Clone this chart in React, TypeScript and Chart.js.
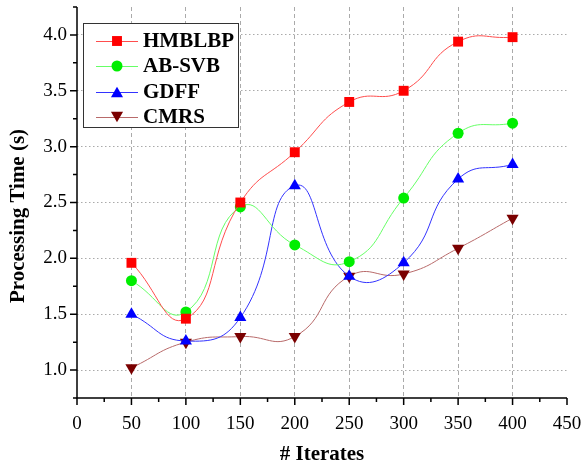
import React, { useEffect, useRef } from 'react';
import { Chart, registerables } from 'chart.js';

Chart.register(...registerables);

const iterates = [50, 100, 150, 200, 250, 300, 350, 400];
const hmblbp = [1.96, 1.46, 2.5, 2.95, 3.4, 3.5, 3.94, 3.98];
const abSvb = [1.8, 1.52, 2.46, 2.12, 1.97, 2.54, 3.12, 3.21];
const gdff = [1.5, 1.26, 1.47, 2.65, 1.84, 1.96, 2.71, 2.84];
const cmrs = [1.02, 1.25, 1.3, 1.3, 1.84, 1.86, 2.09, 2.36];
const seriesNames = ['HMBLBP', 'AB-SVB', 'GDFF', 'CMRS'];
const xTickValues = [0, 50, 100, 150, 200, 250, 300, 350, 400, 450];
const yTickValues = [1.0, 1.5, 2.0, 2.5, 3.0, 3.5, 4.0];
const xMinorTicks = [25, 75, 125, 175, 225, 275, 325, 375, 425];
const yMinorTicks = [0.75, 1.25, 1.75, 2.25, 2.75, 3.25, 3.75, 4.25];
const xTitle = '# Iterates';
const yTitle = 'Processing Time (s)';

const lineColors = ['#ff4d4d', '#66ff66', '#3333ff', '#b86a6a'];
const markerColors = ['#ff0000', '#00ee00', '#0000ff', '#7a0000'];
const markerStyles = ['rect', 'circle', 'triangle', 'triangle'];
const markerRotations = [0, 0, 0, 180];
const markerRadii = [7, 5.5, 7, 7];

const FONT = '"Liberation Serif", "Times New Roman", serif';

function drawMarker(ctx: CanvasRenderingContext2D, i: number, x: number, y: number) {
  ctx.save();
  ctx.fillStyle = markerColors[i];
  const r = markerRadii[i];
  ctx.beginPath();
  if (markerStyles[i] === 'rect') {
    const s = r * Math.SQRT1_2;
    ctx.rect(x - s, y - s, 2 * s, 2 * s);
  } else if (markerStyles[i] === 'circle') {
    ctx.arc(x, y, r, 0, Math.PI * 2);
  } else {
    const dir = markerRotations[i] === 180 ? 1 : -1;
    const h = r * 1.5;
    const w = r * Math.sqrt(3) / 2;
    ctx.moveTo(x, y + dir * h / 2);
    ctx.lineTo(x - w, y - dir * h / 2);
    ctx.lineTo(x + w, y - dir * h / 2);
    ctx.closePath();
  }
  ctx.fill();
  ctx.restore();
}

const axisPlugin = {
  id: 'axisTicks',
  afterDraw(chart: any) {
    const ctx = chart.ctx as CanvasRenderingContext2D;
    const xs = chart.scales.x;
    const ys = chart.scales.y;
    const area = chart.chartArea;
    ctx.save();
    ctx.strokeStyle = '#000';
    ctx.lineWidth = 1.5;
    ctx.beginPath();
    ctx.moveTo(area.left, area.top);
    ctx.lineTo(area.left, area.bottom);
    ctx.lineTo(area.right, area.bottom);
    ctx.stroke();
    ctx.beginPath();
    for (const v of xTickValues) {
      const px = xs.getPixelForValue(v);
      ctx.moveTo(px, area.bottom);
      ctx.lineTo(px, area.bottom + 7);
    }
    for (const v of xMinorTicks) {
      const px = xs.getPixelForValue(v);
      ctx.moveTo(px, area.bottom);
      ctx.lineTo(px, area.bottom + 4);
    }
    for (const v of yTickValues) {
      const py = ys.getPixelForValue(v);
      ctx.moveTo(area.left, py);
      ctx.lineTo(area.left - 7, py);
    }
    for (const v of yMinorTicks) {
      const py = ys.getPixelForValue(v);
      ctx.moveTo(area.left, py);
      ctx.lineTo(area.left - 4, py);
    }
    ctx.stroke();

    // y-axis title
    ctx.save();
    ctx.translate(19, 216);
    ctx.rotate(-Math.PI / 2);
    ctx.font = `bold 21px ${FONT}`;
    ctx.fillStyle = '#000';
    ctx.textAlign = 'center';
    ctx.textBaseline = 'middle';
    ctx.fillText(yTitle, 0, 0);
    ctx.restore();

    // legend
    const bx = 83, by = 23, bw = 155, bh = 104;
    ctx.fillStyle = '#fff';
    ctx.fillRect(bx, by, bw, bh);
    ctx.strokeStyle = '#333';
    ctx.lineWidth = 1;
    ctx.strokeRect(bx + 0.5, by + 0.5, bw, bh);
    const rows = [41, 66, 92, 117];
    ctx.font = `bold 21px ${FONT}`;
    ctx.textBaseline = 'middle';
    ctx.textAlign = 'left';
    seriesNames.forEach((name, i) => {
      const y = rows[i];
      ctx.strokeStyle = lineColors[i];
      ctx.lineWidth = 1;
      ctx.beginPath();
      ctx.moveTo(96, y + 0.5);
      ctx.lineTo(138, y + 0.5);
      ctx.stroke();
      drawMarker(ctx, i, 117, y);
      ctx.fillStyle = '#000';
      ctx.fillText(name, 143, y + 1);
    });
    ctx.restore();
  },
};

export default function App() {
  const ref = useRef<HTMLCanvasElement>(null);
  useEffect(() => {
    document.body.style.margin = '0';
    const seriesData = [hmblbp, abSvb, gdff, cmrs];
    const chart = new Chart(ref.current!, {
      type: 'line',
      data: {
        datasets: seriesData.map((vals, i) => ({
          label: seriesNames[i],
          data: iterates.map((x, j) => ({ x, y: vals[j] })),
          borderColor: lineColors[i],
          borderWidth: 1,
          backgroundColor: markerColors[i],
          pointBackgroundColor: markerColors[i],
          pointBorderColor: markerColors[i],
          pointBorderWidth: 0,
          pointStyle: markerStyles[i] as any,
          pointRotation: markerRotations[i],
          pointRadius: markerRadii[i],
          tension: 0.5,
          fill: false,
        })),
      },
      options: {
        animation: false,
        responsive: false,
        events: [],
        layout: { padding: { top: 5, right: 15, bottom: 0, left: 0 } },
        plugins: { legend: { display: false }, tooltip: { enabled: false } },
        scales: {
          x: {
            type: 'linear',
            min: 0,
            max: 450,
            afterFit: (s: any) => { s.height = 70; s.paddingLeft = 0; s.paddingRight = 0; },
            afterBuildTicks: (s: any) => { s.ticks = xTickValues.map((value) => ({ value })); },
            border: { display: false, dash: [4, 3] },
            grid: {
              drawTicks: false,
              color: (c: any) => (c.tick && (c.tick.value === 0 || c.tick.value === 450) ? 'rgba(0,0,0,0)' : '#aaaaaa'),
              lineWidth: 1,
            },
            ticks: {
              padding: 15,
              color: '#000',
              font: { family: FONT, size: 19 },
              maxRotation: 0,
              autoSkip: false,
              callback: (v: any) => String(v),
            },
            title: {
              display: true,
              text: xTitle,
              color: '#000',
              font: { family: FONT, size: 21, weight: 'bold' },
              padding: { top: 0, bottom: 1 },
            },
          },
          y: {
            type: 'linear',
            min: 0.75,
            max: 4.25,
            afterFit: (s: any) => { s.width = 77; s.paddingTop = 0; s.paddingBottom = 0; },
            afterBuildTicks: (s: any) => { s.ticks = yTickValues.map((value) => ({ value })); },
            border: { display: false, dash: [1.5, 2.5] },
            grid: {
              drawTicks: false,
              color: '#aaaaaa',
              lineWidth: 1,
            },
            ticks: {
              padding: 10,
              color: '#000',
              font: { family: FONT, size: 19 },
              autoSkip: false,
              callback: (v: any) => Number(v).toFixed(1),
            },
            title: { display: false },
          },
        },
      },
      plugins: [axisPlugin],
    });
    return () => chart.destroy();
  }, []);
  return (
    <div style={{ width: 582, height: 468, background: '#fff' }}>
      <canvas ref={ref} width={582} height={468} style={{ display: 'block' }} />
    </div>
  );
}
